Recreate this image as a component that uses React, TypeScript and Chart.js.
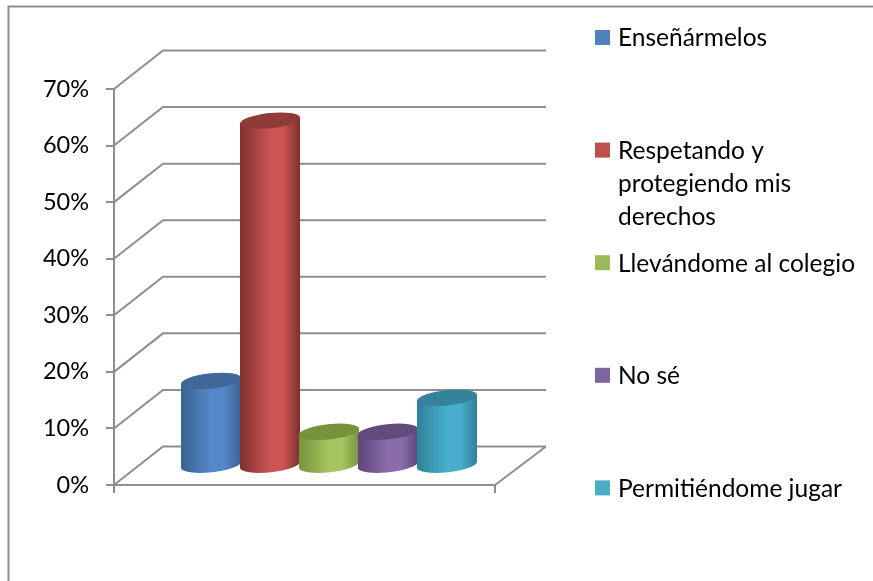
import React, { useEffect, useRef } from "react";
import { Chart, registerables } from "chart.js";

Chart.register(...registerables);

const categories = ["Respuestas"];
const seriesNames = [
  "Enseñármelos",
  "Respetando y protegiendo mis derechos",
  "Llevándome al colegio",
  "No sé",
  "Permitiéndome jugar",
];
const legendLines = [
  ["Enseñármelos"],
  ["Respetando y", "protegiendo mis", "derechos"],
  ["Llevándome al colegio"],
  ["No sé"],
  ["Permitiéndome jugar"],
];
const seriesValues = [15, 61, 6, 6, 12];
const yMax = 70;
const yStep = 10;

const legendColors = ["#4f81bd", "#c0504d", "#9bbb59", "#8064a2", "#4bacc6"];
const lightColors = ["#5487c8", "#cc5452", "#a4c55f", "#8a6cab", "#47afcb"];
const edgeColors = ["#3a6292", "#7c302e", "#78933f", "#5d4679", "#2f8099"];
const capColors = ["#3f6797", "#8f3b39", "#769339", "#634b7e", "#35839a"];

const AXIS = "#8e8e8e";
const FONT = "Lato, Carlito, sans-serif";
const DEPTH_X = 49;
const DEPTH_Y = 38.5;

function drawCylinder(ctx: any, el: any, i: number) {
  const cx = el.x + DEPTH_X / 2;
  const top = el.y - DEPTH_Y / 2;
  const bottom = el.base - DEPTH_Y / 2;
  const rx = el.width / 2 + 0.7;
  const ry = 7.6;
  const rot = (-6 * Math.PI) / 180;
  const ex = rx * Math.cos(rot);
  const ey = rx * Math.sin(rot);

  const g = ctx.createLinearGradient(cx - ex, 0, cx + ex, 0);
  g.addColorStop(0, edgeColors[i]);
  g.addColorStop(0.5, lightColors[i]);
  g.addColorStop(0.72, lightColors[i]);
  g.addColorStop(1, edgeColors[i]);

  ctx.save();
  ctx.beginPath();
  ctx.moveTo(cx - ex, top - ey);
  ctx.lineTo(cx - ex, bottom - ey);
  ctx.ellipse(cx, bottom, rx, ry, rot, Math.PI, 0, true);
  ctx.lineTo(cx + ex, top + ey);
  ctx.closePath();
  ctx.fillStyle = g;
  ctx.fill();

  ctx.beginPath();
  ctx.ellipse(cx, top, rx, ry, rot, 0, Math.PI * 2);
  ctx.fillStyle = capColors[i];
  ctx.fill();
  ctx.restore();
}

const cylinderPlugin = {
  id: "cylinder",
  // The library's flat bars are replaced; cylinders go left to right so later ones overlap earlier ones.
  beforeDatasetDraw() {
    return false;
  },
  afterDatasetsDraw(chart: any) {
    chart.data.datasets.forEach((_: any, i: number) => {
      drawCylinder(chart.ctx, chart.getDatasetMeta(i).data[0], i);
    });
  },
};

const wallsPlugin = {
  id: "walls",
  beforeDatasetsDraw(chart: any) {
    const { ctx, chartArea, scales } = chart;
    const { left, right, bottom } = chartArea;
    ctx.save();
    ctx.strokeStyle = AXIS;
    ctx.lineWidth = 2;
    ctx.beginPath();
    // page frame
    ctx.moveTo(8.5, chart.height);
    ctx.lineTo(8.5, 6.5);
    ctx.lineTo(chart.width, 6.5);
    // wall and floor lines follow the value scale
    for (const t of scales.y.ticks) {
      const y = scales.y.getPixelForValue(t.value);
      ctx.moveTo(left, y);
      ctx.lineTo(left + DEPTH_X, y - DEPTH_Y);
      ctx.lineTo(right + DEPTH_X + 2, y - DEPTH_Y);
    }
    ctx.moveTo(right, bottom);
    ctx.lineTo(right + DEPTH_X + 2, bottom - DEPTH_Y);
    ctx.stroke();
    ctx.restore();
  },
};

const sideLegendPlugin = {
  id: "sideLegend",
  afterDraw(chart: any) {
    const { ctx } = chart;
    ctx.save();
    ctx.font = `24.5px ${FONT}`;
    ctx.textBaseline = "middle";
    ctx.textAlign = "left";
    chart.data.datasets.forEach((d: any, i: number) => {
      const y = 37.5 + i * 112.6;
      ctx.fillStyle = d.backgroundColor;
      ctx.fillRect(595, y - 7.5, 15, 15);
      ctx.fillStyle = "#000000";
      legendLines[i].forEach((line, k) => {
        ctx.fillText(line, 618, y + 1 + k * 33);
      });
    });
    ctx.restore();
  },
};

export default function App() {
  const ref = useRef<HTMLCanvasElement>(null);
  useEffect(() => {
    const chart = new Chart(ref.current as HTMLCanvasElement, {
      type: "bar",
      data: {
        labels: categories,
        datasets: seriesNames.map((name, i) => ({
          label: name,
          data: [seriesValues[i]],
          backgroundColor: legendColors[i],
        })),
      },
      options: {
        responsive: false,
        animation: false,
        layout: { autoPadding: false, padding: { top: 89, right: 378, left: 0, bottom: 0 } },
        datasets: { bar: { categoryPercentage: 0.774, barPercentage: 1 } },
        plugins: {
          legend: { display: false },
          title: { display: false },
          tooltip: { enabled: false },
        },
        scales: {
          x: {
            type: "category",
            afterFit: (s: any) => { s.height = 96; },
            ticks: { display: false },
            border: { color: AXIS, width: 2 },
            grid: { offset: true, color: AXIS, lineWidth: 2, tickLength: 8, drawOnChartArea: false },
          },
          y: {
            min: 0,
            max: yMax,
            afterFit: (s: any) => { s.width = 114; },
            border: { color: AXIS, width: 2 },
            grid: { color: AXIS, lineWidth: 2, tickLength: 8, drawOnChartArea: false },
            ticks: {
              stepSize: yStep,
              padding: 17,
              color: "#000000",
              font: { family: FONT, size: 23.5 },
              callback: (v: any) => `${v}%`,
            },
          },
        },
      } as any,
      plugins: [wallsPlugin, cylinderPlugin, sideLegendPlugin],
    });
    return () => chart.destroy();
  }, []);
  return (
    <canvas
      ref={ref}
      width={873}
      height={581}
      style={{ position: "absolute", left: 0, top: 0, width: 873, height: 581, display: "block" }}
    />
  );
}
